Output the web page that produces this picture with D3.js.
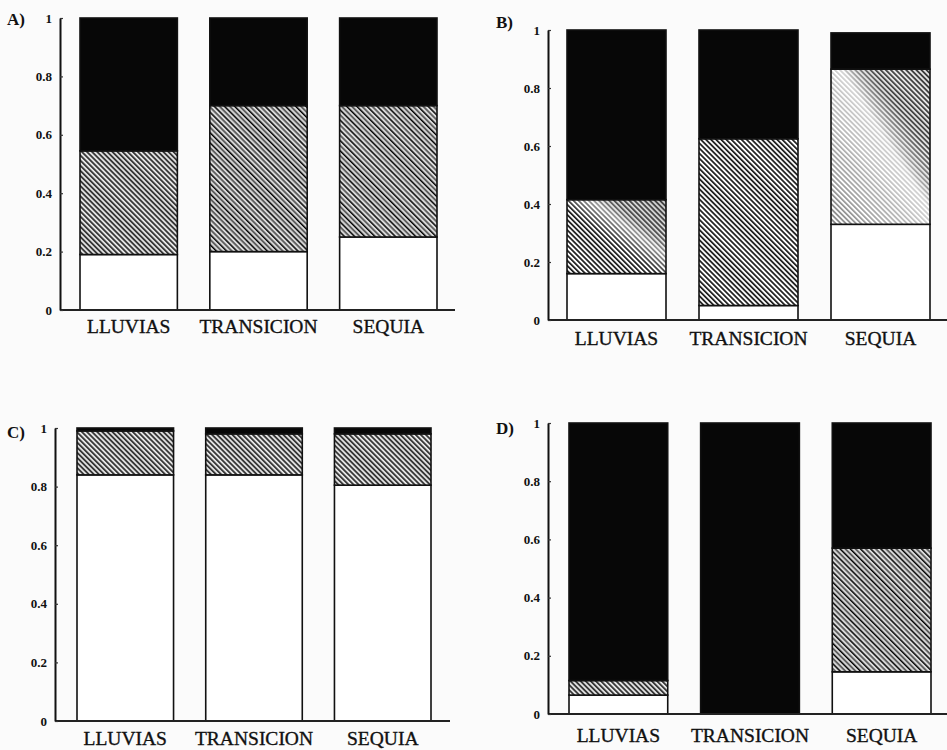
<!DOCTYPE html>
<html>
<head>
<meta charset="utf-8">
<script src="https://cdn.jsdelivr.net/npm/d3@7"></script>
<style>
  html, body { margin: 0; padding: 0; background: #fbfbfb; }
  svg { display: block; }
</style>
</head>
<body>
<svg id="chart" width="947" height="750"></svg>
<script>
// ---------- DATA ----------
const categories = ["LLUVIAS", "TRANSICION", "SEQUIA"];
const tickValues = [0, 0.2, 0.4, 0.6, 0.8, 1];
const tickLabels = ["0", "0.2", "0.4", "0.6", "0.8", "1"];
const panelLabels = ["A)", "B)", "C)", "D)"];
const seriesKeys = ["blanco", "rayado", "negro"];

const aBlanco = [0.19, 0.20, 0.25];
const aRayado = [0.355, 0.50, 0.45];
const aNegro  = [0.455, 0.30, 0.30];

const bBlanco = [0.16, 0.05, 0.33];
const bRayado = [0.255, 0.575, 0.535];
const bNegro  = [0.585, 0.375, 0.125];

const cBlanco = [0.84, 0.84, 0.805];
const cRayado = [0.15, 0.14, 0.175];
const cNegro  = [0.01, 0.02, 0.02];

const dBlanco = [0.065, 0.0, 0.145];
const dRayado = [0.05, 0.0, 0.425];
const dNegro  = [0.885, 1.0, 0.43];

const panelData = [
  [aBlanco, aRayado, aNegro],
  [bBlanco, bRayado, bNegro],
  [cBlanco, cRayado, cNegro],
  [dBlanco, dRayado, dNegro]
];

// ---------- LAYOUT / STYLE ----------
const layout = [
  {axisX: 60,  top: 18,  bottom: 310, barL: 80,  barR: 437, axisEnd: 455, catY: 333, tagX: 7,   tagY: 25,  hatch: ["plain", "dense", "dense"], wash: [null, null, null]},
  {axisX: 548, top: 30,  bottom: 320, barL: 567, barR: 930, axisEnd: 947, catY: 345, tagX: 496, tagY: 28,  hatch: ["light", "light", "light"], wash: ["grayTR", null, "whiteBL"]},
  {axisX: 55,  top: 428, bottom: 721, barL: 77,  barR: 431, axisEnd: 450, catY: 745, tagX: 7,   tagY: 438, hatch: ["plain", "plain", "plain"], wash: [null, null, null]},
  {axisX: 548, top: 423, bottom: 714, barL: 569, barR: 931, axisEnd: 947, catY: 742, tagX: 496, tagY: 434, hatch: ["plain", "plain", "dense"], wash: [null, null, null]}
];

const svg = d3.select("#chart");
const defs = svg.append("defs");

// hatch patterns (lines running top-left to bottom-right)
function makePattern(id, w, build) {
  const p = defs.append("pattern")
    .attr("id", id)
    .attr("patternUnits", "userSpaceOnUse")
    .attr("width", w).attr("height", 10)
    .attr("patternTransform", "rotate(-45)");
  build(p, w);
}
makePattern("hatch-plain", 3.6, (p, w) => {
  p.append("rect").attr("width", w).attr("height", 10).attr("fill", "#ececec");
  p.append("rect").attr("x", 0).attr("width", 1.9).attr("height", 10).attr("fill", "#383838");
});
makePattern("hatch-dense", 7.2, (p, w) => {
  p.append("rect").attr("width", w).attr("height", 10).attr("fill", "#b5b5b5");
  p.append("rect").attr("x", 0).attr("width", 1.7).attr("height", 10).attr("fill", "#5a5a5a");
  p.append("rect").attr("x", 3.6).attr("width", 1.4).attr("height", 10).attr("fill", "#000");
  p.append("rect").attr("x", 2.0).attr("width", 1.2).attr("height", 10).attr("fill", "#eeeeee");
  p.append("rect").attr("x", 5.4).attr("width", 1.3).attr("height", 10).attr("fill", "#e0e0e0");
});
makePattern("hatch-light", 3.6, (p, w) => {
  p.append("rect").attr("width", w).attr("height", 10).attr("fill", "#fdfdfd");
  p.append("rect").attr("x", 0).attr("width", 1.7).attr("height", 10).attr("fill", "#1a1a1a");
});

// wash gradients (scan tone)
const gTR = defs.append("linearGradient").attr("id", "wash-grayTR")
  .attr("x1", "0").attr("y1", "1").attr("x2", "1").attr("y2", "0");
gTR.append("stop").attr("offset", "0.45").attr("stop-color", "#fff").attr("stop-opacity", 0);
gTR.append("stop").attr("offset", "0.62").attr("stop-color", "#fff").attr("stop-opacity", 0.55);
gTR.append("stop").attr("offset", "0.75").attr("stop-color", "#888").attr("stop-opacity", 0.35);
gTR.append("stop").attr("offset", "1").attr("stop-color", "#777").attr("stop-opacity", 0.35);

const gBL = defs.append("linearGradient").attr("id", "wash-whiteBL")
  .attr("x1", "0").attr("y1", "1").attr("x2", "1").attr("y2", "0");
gBL.append("stop").attr("offset", "0").attr("stop-color", "#fff").attr("stop-opacity", 0.45);
gBL.append("stop").attr("offset", "0.55").attr("stop-color", "#fff").attr("stop-opacity", 0.8);
gBL.append("stop").attr("offset", "0.72").attr("stop-color", "#aaa").attr("stop-opacity", 0.3);
gBL.append("stop").attr("offset", "1").attr("stop-color", "#888").attr("stop-opacity", 0.2);

const serif = "'Liberation Serif', 'Times New Roman', serif";

panelData.forEach((arrays, pi) => {
  const L = layout[pi];
  const rows = categories.map((c, i) => {
    const r = {cat: c};
    seriesKeys.forEach((k, si) => r[k] = arrays[si][i]);
    return r;
  });
  const stacked = d3.stack().keys(seriesKeys)(rows);

  const x = d3.scaleBand().domain(categories).range([L.barL, L.barR]).paddingInner(0.25).paddingOuter(0);
  const y = d3.scaleLinear().domain([0, 1]).range([L.bottom, L.top]);

  const g = svg.append("g");

  // bars
  stacked.forEach((layer) => {
    layer.forEach((d, i) => {
      const h = y(d[0]) - y(d[1]);
      if (h <= 0.01) return;
      const cat = categories[i];
      let fill;
      if (layer.key === "blanco") fill = "#ffffff";
      else if (layer.key === "negro") fill = "#070707";
      else fill = "url(#hatch-" + L.hatch[i] + ")";
      g.append("rect")
        .attr("x", x(cat)).attr("y", y(d[1]))
        .attr("width", x.bandwidth()).attr("height", h)
        .attr("fill", fill);
      if (layer.key === "rayado" && L.wash[i]) {
        g.append("rect")
          .attr("x", x(cat)).attr("y", y(d[1]))
          .attr("width", x.bandwidth()).attr("height", h)
          .attr("fill", "url(#wash-" + L.wash[i] + ")");
      }
      g.append("rect")
        .attr("x", x(cat)).attr("y", y(d[1]))
        .attr("width", x.bandwidth()).attr("height", h)
        .attr("fill", "none").attr("stroke", "#111").attr("stroke-width", 1.6);
    });
  });

  // x axis line (baseline)
  g.append("line")
    .attr("x1", L.axisX).attr("x2", L.axisEnd)
    .attr("y1", L.bottom).attr("y2", L.bottom)
    .attr("stroke", "#222").attr("stroke-width", 2);

  // y axis
  const yAxis = d3.axisLeft(y)
    .tickValues(tickValues)
    .tickFormat((v, i) => tickLabels[i])
    .tickSizeInner(-3).tickSizeOuter(0).tickPadding(8);
  const ya = g.append("g").attr("transform", `translate(${L.axisX},0)`).call(yAxis);
  ya.select(".domain").attr("stroke", "#111").attr("stroke-width", 2);
  ya.selectAll(".tick line").attr("stroke", "#333").attr("stroke-width", 1.2);
  ya.selectAll(".tick text")
    .attr("font-family", serif).attr("font-size", 13).attr("font-weight", "bold").attr("fill", "#111");

  // category labels
  g.selectAll("text.cat").data(categories).join("text")
    .attr("class", "cat")
    .attr("x", d => x(d) + x.bandwidth() / 2)
    .attr("y", L.catY)
    .attr("text-anchor", "middle")
    .attr("font-family", serif).attr("font-size", 19.5)
    .attr("fill", "#111").attr("stroke", "#111").attr("stroke-width", 0.35)
    .text(d => d);

  // panel label
  g.append("text")
    .attr("x", L.tagX).attr("y", L.tagY)
    .attr("font-family", serif).attr("font-size", 17).attr("font-weight", "bold")
    .attr("fill", "#111")
    .text(panelLabels[pi]);
});
</script>
</body>
</html>
